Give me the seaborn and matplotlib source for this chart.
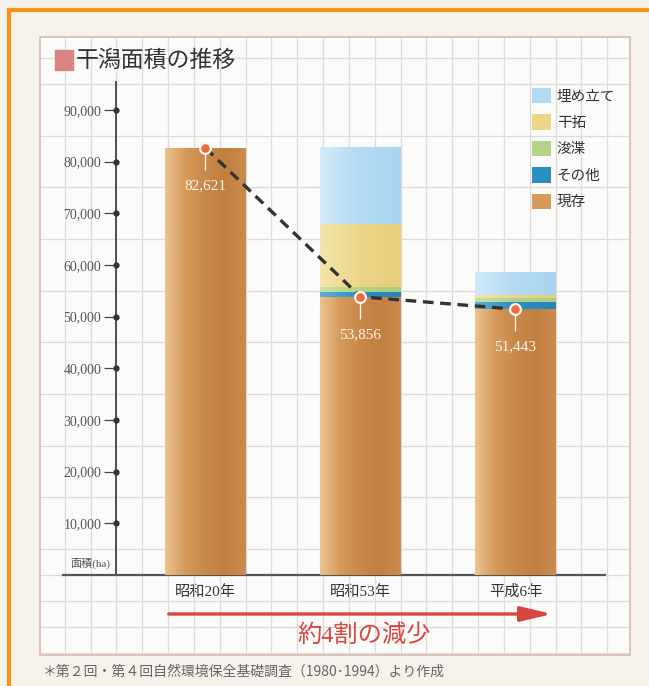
import numpy as np
import pandas as pd
import matplotlib
matplotlib.use("Agg")
import matplotlib.pyplot as plt
import seaborn as sns
from matplotlib.patches import Patch, Rectangle, FancyArrowPatch
from matplotlib.colors import LinearSegmentedColormap
from matplotlib.ticker import FixedLocator, MultipleLocator, FuncFormatter

# ---------------- data ----------------
years = ["昭和20年", "昭和53年", "平成6年"]
genzon = [82621, 53856, 51443]      # 現存
sonota = [0, 850, 1450]             # その他
shunsetsu = [0, 1080, 650]          # 浚渫
kantaku = [0, 12080, 640]           # 干拓
umetate = [0, 14900, 4510]          # 埋め立て
layer_names = ["現存", "その他", "浚渫", "干拓", "埋め立て"]
y_ticks = [10000, 20000, 30000, 40000, 50000, 60000, 70000, 80000, 90000]
title = "干潟面積の推移"
note = "＊第２回・第４回自然環境保全基礎調査（1980･1994）より作成"
trend_text = "約4割の減少"
unit_text = "面積(ha)"

sns.set_style("white")
plt.rcParams["font.family"] = ["Noto Sans CJK JP", "DejaVu Sans"]
SERIF = ["Liberation Serif", "Noto Sans CJK JP"]

W, H = 649, 686
fig = plt.figure(figsize=(W / 100, H / 100), dpi=100, facecolor="#f4f2eb")
ax = fig.add_axes([40 / W, (H - 655) / H, 590 / W, 618 / H])
ax.set_facecolor("#fbfbf9")

colors = {
    "埋め立て": ["#d2eaf8", "#b2daf2", "#a9d4ef"],
    "干拓": ["#f4e6ac", "#ecd586", "#e7cd7c"],
    "浚渫": ["#c9e0a6", "#b2d28a", "#a9cc82"],
    "その他": ["#5fb0d8", "#2b8ec0", "#2685b8"],
    "現存": ["#edc38f", "#d69a5a", "#c8884a", "#c2803f", "#c98b4f"],
}

df = pd.DataFrame({"year": years, "現存": genzon, "その他": sonota,
                   "浚渫": shunsetsu, "干拓": kantaku, "埋め立て": umetate})
cum = df[layer_names].cumsum(axis=1)

bar_w = 81 / 155
z = 2
for name in reversed(layer_names):
    n0 = len(ax.patches)
    sns.barplot(x=df["year"], y=cum[name], color=colors[name][1], saturation=1,
                width=bar_w, ax=ax, order=years, zorder=z)
    new = ax.patches[n0:]
    cmap = LinearSegmentedColormap.from_list(name, colors[name])
    grad = np.linspace(0, 1, 256).reshape(1, -1)
    for p in new:
        p.set_zorder(z)
        p.set_linewidth(0)
        h = p.get_height()
        if h <= 0:
            continue
        x0, y0, w = p.get_x(), p.get_y(), p.get_width()
        im = ax.imshow(grad, extent=[x0, x0 + w, y0, y0 + h], aspect="auto",
                       cmap=cmap, origin="lower", zorder=z + 0.1,
                       interpolation="bicubic")
        im.set_clip_path(p)
    z += 0.5

xpos = np.arange(len(years))

# dashed trend line + markers
sns.lineplot(x=xpos, y=genzon, ax=ax, color="#333333", lw=2.4,
             linestyle=(0, (3.2, 2)), zorder=10, sort=False)
ax.vlines(xpos, [g - 4300 for g in genzon], genzon, color="#fff6ea", lw=1.0, zorder=10.5)
sns.scatterplot(x=xpos, y=genzon, ax=ax, s=60, color="#ec6a3c",
                edgecolor="#fff6ea", linewidth=1.6, zorder=11)
for xi, g in zip(xpos, genzon):
    ax.text(xi, g - 7300, f"{g:,}", ha="center", va="center", color="#fff6ea",
            fontsize=11, family=SERIF, zorder=12)

# limits
ax.set_xlim((40 - 205.5) / 155, (630 - 205.5) / 155)
ppu = 51.67 / 10000
ax.set_ylim(-(655 - 575) / ppu, (575 - 37) / ppu)
axis_x = (116.5 - 205.5) / 155

# grid
ax.xaxis.set_minor_locator(FixedLocator(axis_x + np.arange(-4, 22) / 6))
ax.yaxis.set_minor_locator(MultipleLocator(5000))
ax.grid(False)
ax.grid(which="minor", color="#e0dbda", lw=0.9, zorder=0)
ax.set_axisbelow(True)

# spines
for s in ["top", "right"]:
    ax.spines[s].set_visible(False)
ax.spines["left"].set_position(("data", axis_x))
ax.spines["left"].set_bounds(0, 95500)
ax.spines["left"].set_color("#444444")
ax.spines["left"].set_linewidth(1.3)
ax.spines["bottom"].set_position(("data", 0))
ax.spines["bottom"].set_bounds((63 - 205.5) / 155, (605 - 205.5) / 155)
ax.spines["bottom"].set_color("#555555")
ax.spines["bottom"].set_linewidth(1.6)
ax.add_patch(Rectangle((0, 0), 1, 1, transform=ax.transAxes, fill=False,
                       edgecolor="#dbb9b1", lw=1.2, zorder=20, clip_on=False))

ax.set_yticks(y_ticks)
ax.yaxis.set_major_formatter(FuncFormatter(lambda v, p: f"{int(v):,}"))
ax.tick_params(axis="y", which="major", length=9, width=0.9, color="#444444",
               pad=2, labelsize=10, labelcolor="#555555", left=True, direction="out")
ax.tick_params(which="minor", length=0)
ax.tick_params(axis="x", which="major", length=0, pad=7, labelsize=11,
               labelcolor="#333333")
for lab in ax.get_yticklabels():
    lab.set_family(SERIF)
for lab in ax.get_xticklabels():
    lab.set_family(SERIF)
ax.set_xlabel("")
ax.set_ylabel("")
ax.scatter([axis_x] * len(y_ticks), y_ticks, s=12, color="#333333", zorder=6,
           clip_on=False)
ax.text((110 - 205.5) / 155, (575 - 563) / ppu, unit_text, ha="right", va="center",
        fontsize=8, color="#555555", family=SERIF)

# red arrow and text
ya = (575 - 614) / ppu
arr = FancyArrowPatch(((166 - 205.5) / 155, ya), ((555 - 205.5) / 155, ya),
                      arrowstyle="-|>,head_length=1.9,head_width=0.45",
                      mutation_scale=10, color="#d9463f", lw=2.4, zorder=9)
ax.add_patch(arr)
ax.text((364 - 205.5) / 155, (575 - 636) / ppu, trend_text, ha="center", va="center",
        color="#d9463f", fontsize=17.5, family=SERIF, zorder=9)

# legend
handles = [Patch(facecolor=colors[n][1], edgecolor="none") for n in reversed(layer_names)]
fig.legend(handles, list(reversed(layer_names)), loc="upper left",
           bbox_to_anchor=(532 / W, 1 - 88 / H), frameon=False, fontsize=10.5,
           handlelength=1.3, handleheight=1.25, handletextpad=0.4,
           labelspacing=0.74, borderaxespad=0, borderpad=0, labelcolor="#333333")

# title
fig.patches.append(Rectangle((55 / W, 1 - 70 / H), 18 / W, 20 / H,
                             transform=fig.transFigure, color="#d98480"))
fig.text(76 / W, 1 - 60 / H, title, fontsize=16.5, color="#333333", va="center")

# footnote
fig.text(43 / W, 1 - 672 / H, note, fontsize=10, color="#666666", va="center")

# orange frame (top and left)
fig.patches.append(Rectangle((9 / W, -0.05), 1.2, 1 - 10 / H + 0.05,
                             transform=fig.transFigure, fill=False,
                             edgecolor="#f7941d", lw=3))

fig.savefig("out.png", dpi=100, facecolor=fig.get_facecolor())
